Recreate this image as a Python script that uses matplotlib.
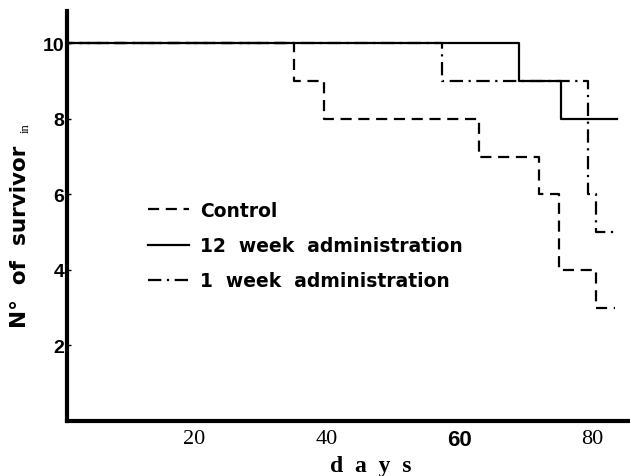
import numpy as np
import matplotlib
matplotlib.use('Agg')
import matplotlib.pyplot as plt

# survival step data (days at which the count changes, number of survivors)
control_days = [0, 35, 39.5, 63, 72, 75, 80.5, 83.5]
control_n = [10, 9, 8, 7, 6, 4, 3, 3]

wk12_days = [0, 69, 75.3, 83.7]
wk12_n = [10, 9, 8, 8]

wk1_days = [0, 57.4, 79.4, 80.5, 83.7]
wk1_n = [10, 9, 6, 5, 5]

xticks = [20, 40, 60, 80]
yticks = [2, 4, 6, 8, 10]

fig = plt.figure(figsize=(6.3, 4.77), dpi=100)
ax = fig.add_axes([67/630, 55/477, (630-67)/630, (422-12)/477])

ax.step(control_days, control_n, where='post', color='black', lw=1.6,
        linestyle=(0, (5, 3)), label='Control')
ax.step(wk12_days, wk12_n, where='post', color='black', lw=1.6,
        label='12  week  administration')
ax.step(wk1_days, wk1_n, where='post', color='black', lw=1.6,
        linestyle=(0, (6, 2.5, 1, 2.5)), label='1  week  administration')

ax.set_xlim(0.83, 85.7)
ax.set_ylim(0, 10.86)

for s in ['top', 'right']:
    ax.spines[s].set_visible(False)
for s in ['left', 'bottom']:
    ax.spines[s].set_linewidth(3)

ax.set_xticks(xticks)
ax.set_yticks(yticks)
ax.tick_params(axis='x', length=0, pad=6)
ax.tick_params(axis='y', direction='in', length=3, width=1, pad=2)

for lab in ax.get_yticklabels():
    lab.set_fontfamily('Liberation Sans')
    lab.set_fontweight('bold')
    lab.set_fontsize(14)
for lab in ax.get_xticklabels():
    if lab.get_text() == '60':
        lab.set_fontfamily('Liberation Sans')
        lab.set_fontweight('bold')
        lab.set_fontsize(16)
    else:
        lab.set_fontfamily('Liberation Serif')
        lab.set_fontsize(16)

leg = ax.legend(loc='upper left', bbox_to_anchor=(0.13, 0.555), frameon=False,
                handlelength=2.2, handletextpad=0.6, labelspacing=0.86,
                borderaxespad=0, prop={'family': 'DejaVu Sans', 'weight': 'bold', 'size': 13.5})

fig.text(371/630, 1 - 472/477, 'd  a  y  s', family='Liberation Serif', weight='bold',
         size=17, ha='center', va='baseline')
fig.text(20/630, 1 - 237/477, 'N°  of  survivor', family='DejaVu Sans', weight='bold',
         size=15.5, rotation=90, ha='center', va='center')
fig.text(26/630, 1 - 128/477, 'in', family='Liberation Serif', size=9,
         rotation=90, ha='center', va='center')

fig.savefig('out.png', dpi=100)
